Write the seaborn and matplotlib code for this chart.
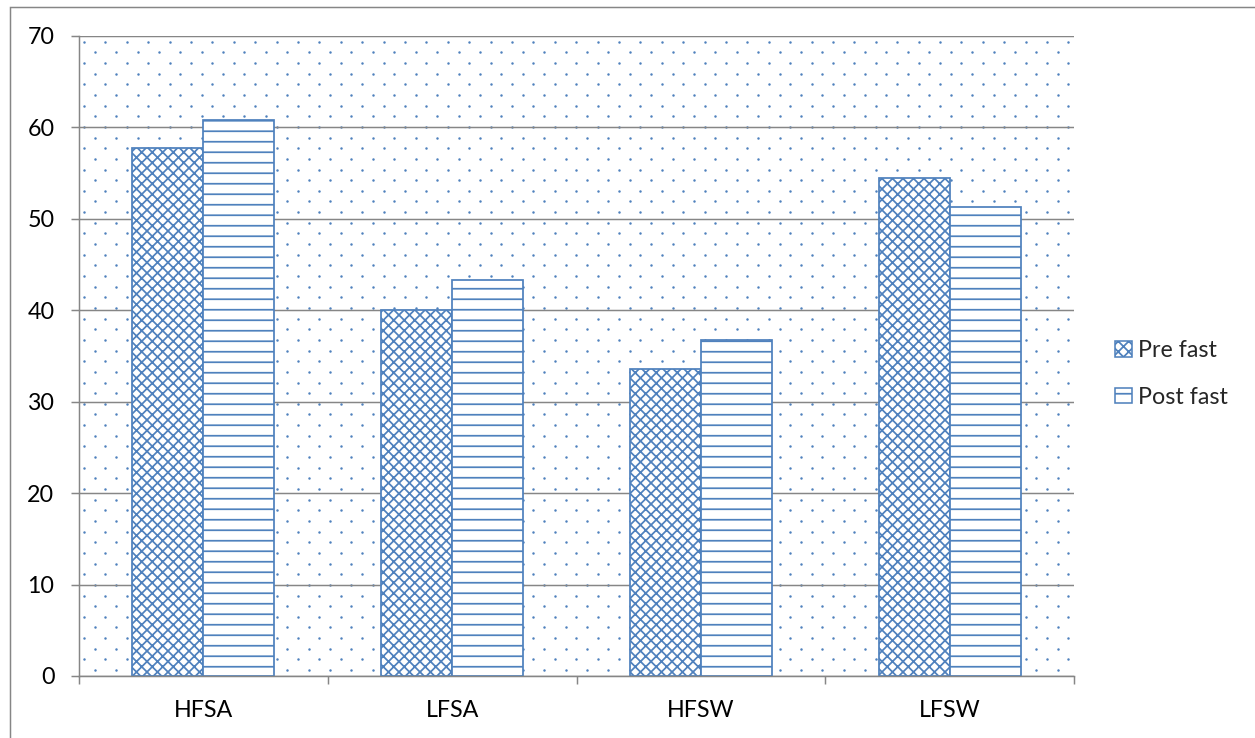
import numpy as np
import pandas as pd
import matplotlib
matplotlib.use("Agg")
import matplotlib.pyplot as plt
import seaborn as sns
from matplotlib.patches import Patch, Rectangle

# ---- data ----
groups = ["HFSA", "LFSA", "HFSW", "LFSW"]
series = ["Pre fast", "Post fast"]
pre_fast = [57.8, 40.0, 33.6, 54.5]
post_fast = [60.8, 43.3, 36.7, 51.3]
y_ticks = [0, 10, 20, 30, 40, 50, 60, 70]

BLUE = "#4F81BD"
GRID = "#868686"
DPI = 63
W, H = 1255, 738
FS = 26.5

sns.set_theme(style="white")
plt.rcParams["font.family"] = ["Lato", "DejaVu Sans"]
plt.rcParams["hatch.linewidth"] = 2.0
plt.rcParams["hatch.color"] = BLUE

df = pd.DataFrame({
    "group": groups * 2,
    "series": [series[0]] * len(groups) + [series[1]] * len(groups),
    "value": pre_fast + post_fast,
})

fig = plt.figure(figsize=(W / DPI, H / DPI), dpi=DPI)
fig.patch.set_facecolor("white")
ax = fig.add_axes([79 / W, 1 - 676 / H, 995 / W, 640 / H])
ax.set_facecolor("white")

sns.barplot(data=df, x="group", y="value", hue="series", order=groups,
            hue_order=series, palette=["white", "white"], width=0.571, gap=0,
            saturation=1, legend=False, errorbar=None, ax=ax)

hatches = ["xx", "-"]
for cont, h in zip(ax.containers, hatches):
    for bar in cont:
        bar.set_facecolor("white")
        bar.set_edgecolor(BLUE)
        bar.set_hatch(h)
        bar.set_linewidth(2.0)
        bar.set_zorder(2)

# dotted background texture of plot area
dx = 21.4 / 995
pts_x, pts_y = [], []
for i in range(int(640 / 10.65) + 1):
    yv = 1 - (5.7 + i * 10.65) / 640
    if yv < 0:
        break
    x0 = (5 + (i % 2) * 10.7) / 995
    xs = np.arange(x0, 1.0, dx)
    pts_x.extend(xs)
    pts_y.extend([yv] * len(xs))
ax.scatter(pts_x, pts_y, s=8, color=BLUE, linewidths=0,
           transform=ax.transAxes, zorder=0.3, clip_on=True)

ax.set_ylim(0, 70)
ax.set_xlim(-0.5, len(groups) - 0.5)
ax.set_yticks(y_ticks)
ax.set_xlabel("")
ax.set_ylabel("")
ax.set_axisbelow(True)
ax.yaxis.grid(True, color=GRID, linewidth=1.7, zorder=0.5)
ax.xaxis.grid(False)

for s in ["top", "right"]:
    ax.spines[s].set_visible(False)
for s in ["left", "bottom"]:
    ax.spines[s].set_color(GRID)
    ax.spines[s].set_linewidth(1.7)
    ax.spines[s].set_zorder(3)

ax.tick_params(axis="y", which="major", direction="out", length=9.1, width=1.7,
               color=GRID, pad=19, labelsize=FS, labelcolor="black", left=True)
ax.set_xticks(np.arange(-0.5, len(groups), 1.0), minor=True)
ax.tick_params(axis="x", which="major", length=0, pad=27, labelsize=FS,
               labelcolor="black")
ax.tick_params(axis="x", which="minor", direction="out", length=9.1, width=1.7,
               color=GRID, bottom=True)

handles = [Patch(facecolor="white", edgecolor=BLUE, hatch=h, linewidth=1.8)
           for h in hatches]
fig.legend(handles, series, loc="center left",
           bbox_to_anchor=(1115 / W, 1 - 374 / H), frameon=False,
           borderpad=0, borderaxespad=0, handlelength=0.72, handleheight=0.65,
           handletextpad=0.28, labelspacing=1.1, fontsize=FS)

fig.add_artist(Rectangle((10 / W, -0.05), 1.1, 1 - 7 / H + 0.05,
                         transform=fig.transFigure, fill=False,
                         edgecolor=GRID, linewidth=1.7, clip_on=False))

fig.savefig("out.png", dpi=DPI)
